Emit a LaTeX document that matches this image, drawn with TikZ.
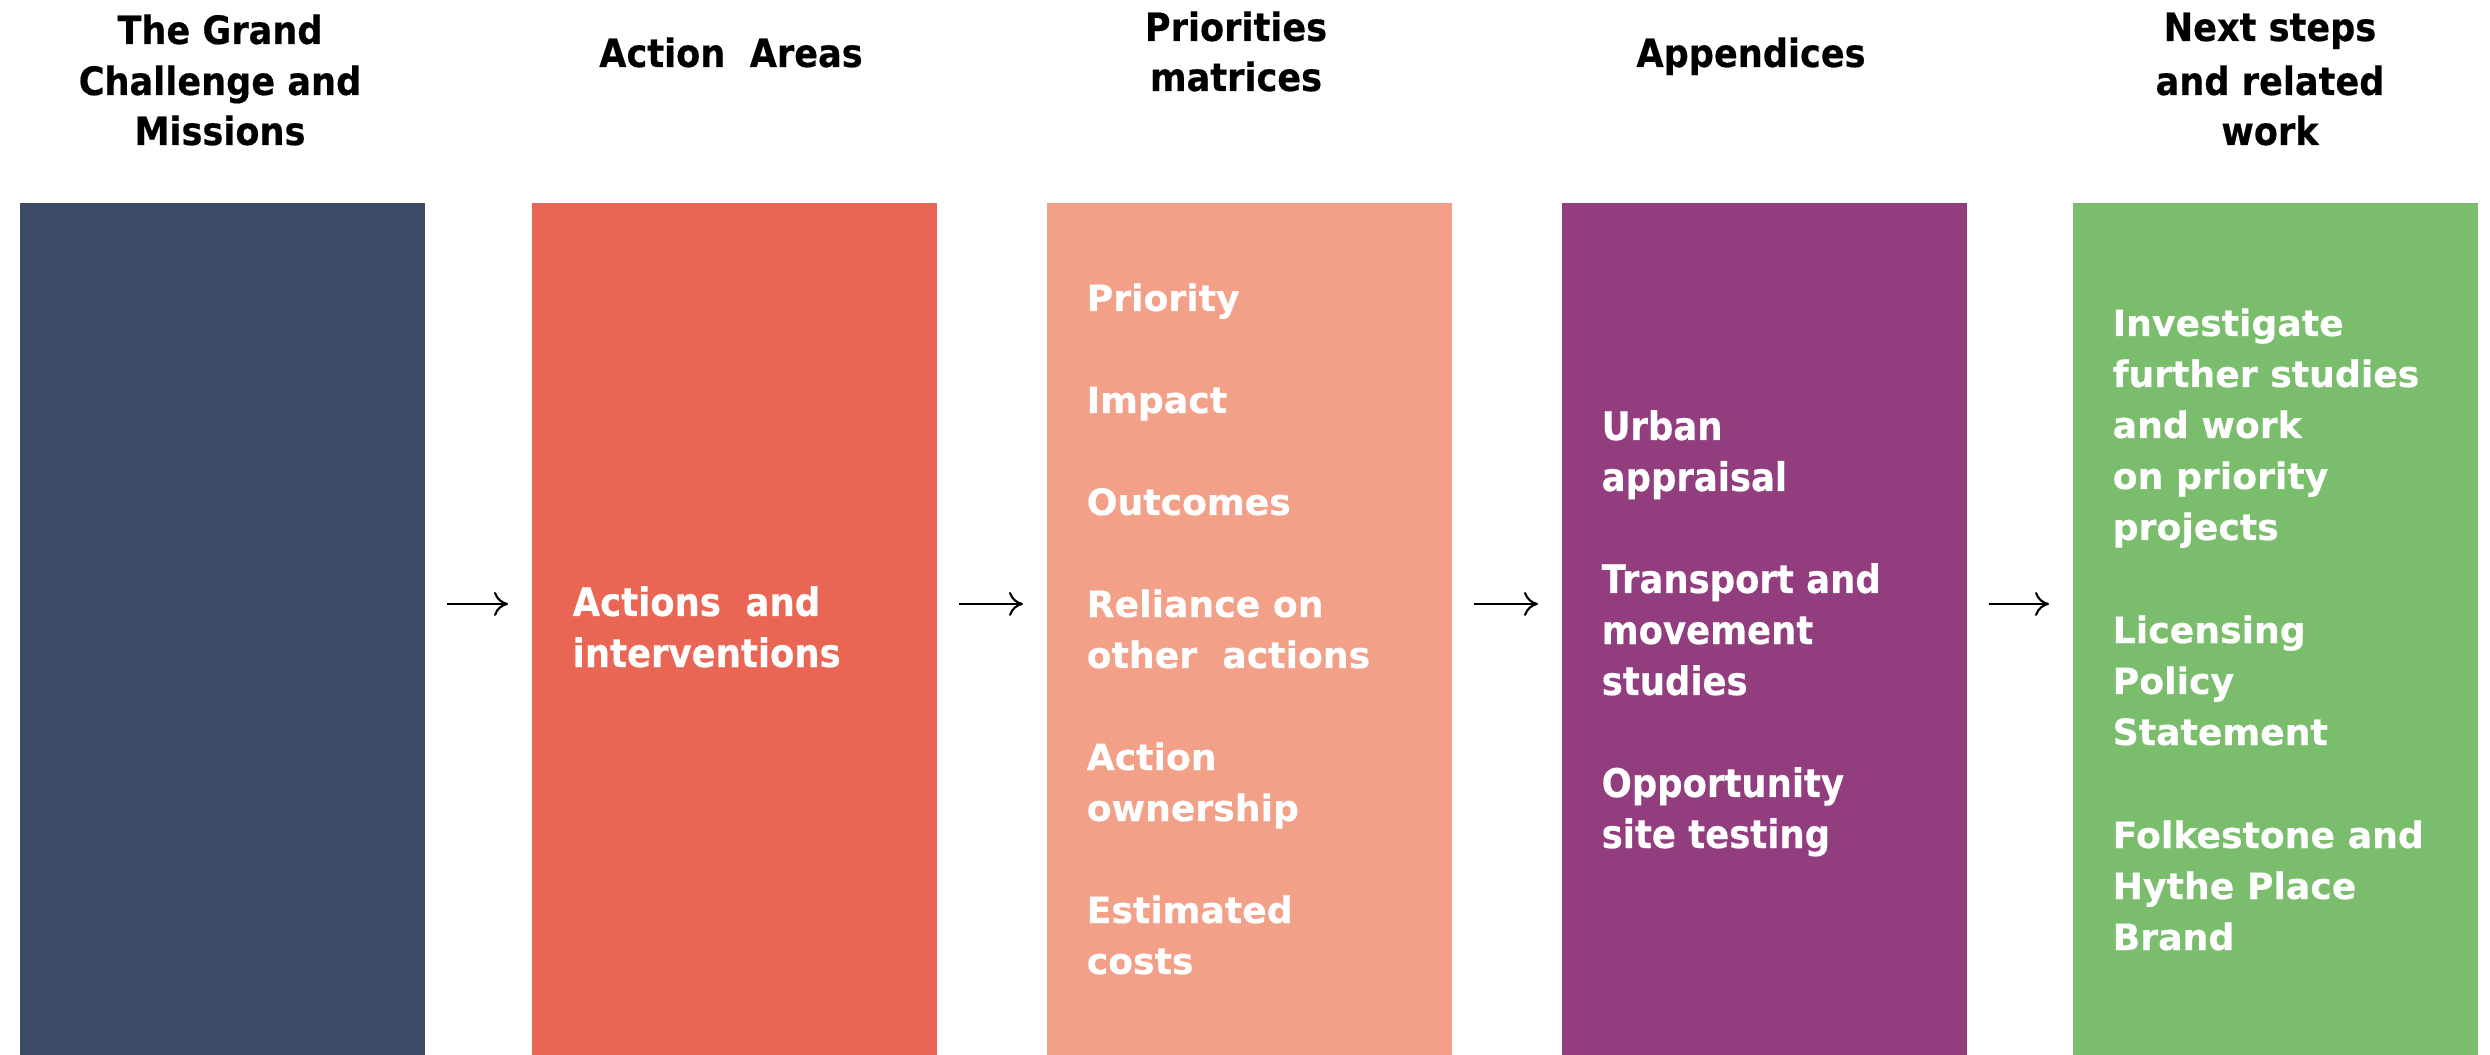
\documentclass[tikz,border=0pt]{standalone}
\usepackage{fontspec}
\setmainfont{DejaVu Sans}
\newfontfamily\tahfont[FakeStretch=0.9,FakeBold=0.4]{DejaVu Sans}
\newfontfamily\verfont[FakeBold=0.4]{DejaVu Sans}
\usetikzlibrary{arrows.meta}
\definecolor{colA}{HTML}{3C4B66}
\definecolor{colB}{HTML}{E96655}
\definecolor{colC}{HTML}{F3A088}
\definecolor{colD}{HTML}{913D7E}
\definecolor{colE}{HTML}{7ABD6C}
\tikzset{
  colbox/.style={rectangle, inner sep=0pt, minimum width=4.05cm, minimum height=8.53cm, anchor=north west, draw=none},
  ttl/.style={anchor=base, inner sep=0pt, text=black, font=\tahfont\bfseries\fontsize{11.1pt}{14.5pt}\selectfont},
  tbody/.style={anchor=base west, inner sep=0pt, text=white, font=\tahfont\bfseries\fontsize{11.2pt}{14.5pt}\selectfont},
  vbody/.style={anchor=base west, inner sep=0pt, text=white, font=\verfont\bfseries\fontsize{10.3pt}{14.5pt}\selectfont},
  flow/.style={-{To[length=1.4mm,width=2.4mm]}, line width=0.6pt, black, shorten <=0.21cm, shorten >=0.23cm}
}
\begin{document}
\begin{tikzpicture}[x=0.01cm,y=-0.01cm]
\useasboundingbox (0,0) rectangle (2490,1055);
% columns
\node[colbox, fill=colA] (c1) at (19,202) {};
\node[colbox, fill=colB] (c2) at (531,202) {};
\node[colbox, fill=colC] (c3) at (1046,202) {};
\node[colbox, fill=colD] (c4) at (1561,202) {};
\node[colbox, fill=colE] (c5) at (2072,202) {};
% titles
\node[ttl] (h1a) at (220,44) {The Grand};
\node[ttl] (h1b) at (220,95) {Challenge and};
\node[ttl] (h1c) at (220,145) {Missions};
\node[ttl] (h2) at (731,67) {Action\ \ Areas};
\node[ttl] (h3a) at (1236,41) {Priorities};
\node[ttl] (h3b) at (1236,91) {matrices};
\node[ttl] (h4) at (1751,67) {Appendices};
\node[ttl] (h5a) at (2270,41) {Next steps};
\node[ttl] (h5b) at (2270,95) {and related};
\node[ttl] (h5c) at (2270,145) {work};
% column 2
\node[tbody] (b2a) at (572,616) {Actions\ \ and};
\node[tbody] (b2b) at (572,667) {interventions};
% column 3
\foreach \yy/\tx [count=\i] in {311/Priority, 413/Impact, 515/Outcomes, 617/Reliance on, 668/other\ \ actions, 770/Action, 821/ownership, 923/Estimated, 974/costs}
  \node[vbody] (b3-\i) at (1086,\yy) {\tx};
% column 4
\foreach \yy/\tx [count=\i] in {440/Urban, 491/appraisal, 593/Transport and, 644/movement, 695/studies, 797/Opportunity, 848/site testing}
  \node[tbody] (b4-\i) at (1601,\yy) {\tx};
% column 5
\foreach \yy/\tx [count=\i] in {336/Investigate, 387/further studies, 438/and work, 489/on priority, 540/projects, 643/Licensing, 694/Policy, 745/Statement, 848/Folkestone and, 899/Hythe Place, 950/Brand}
  \node[vbody] (b5-\i) at (2112,\yy) {\tx};
% arrows
\draw[flow] ([yshift=0.255cm]c1.east) -- ([yshift=0.255cm]c2.west);
\draw[flow] ([yshift=0.255cm]c2.east) -- ([yshift=0.255cm]c3.west);
\draw[flow] ([yshift=0.255cm]c3.east) -- ([yshift=0.255cm]c4.west);
\draw[flow] ([yshift=0.255cm]c4.east) -- ([yshift=0.255cm]c5.west);
\end{tikzpicture}
\end{document}
